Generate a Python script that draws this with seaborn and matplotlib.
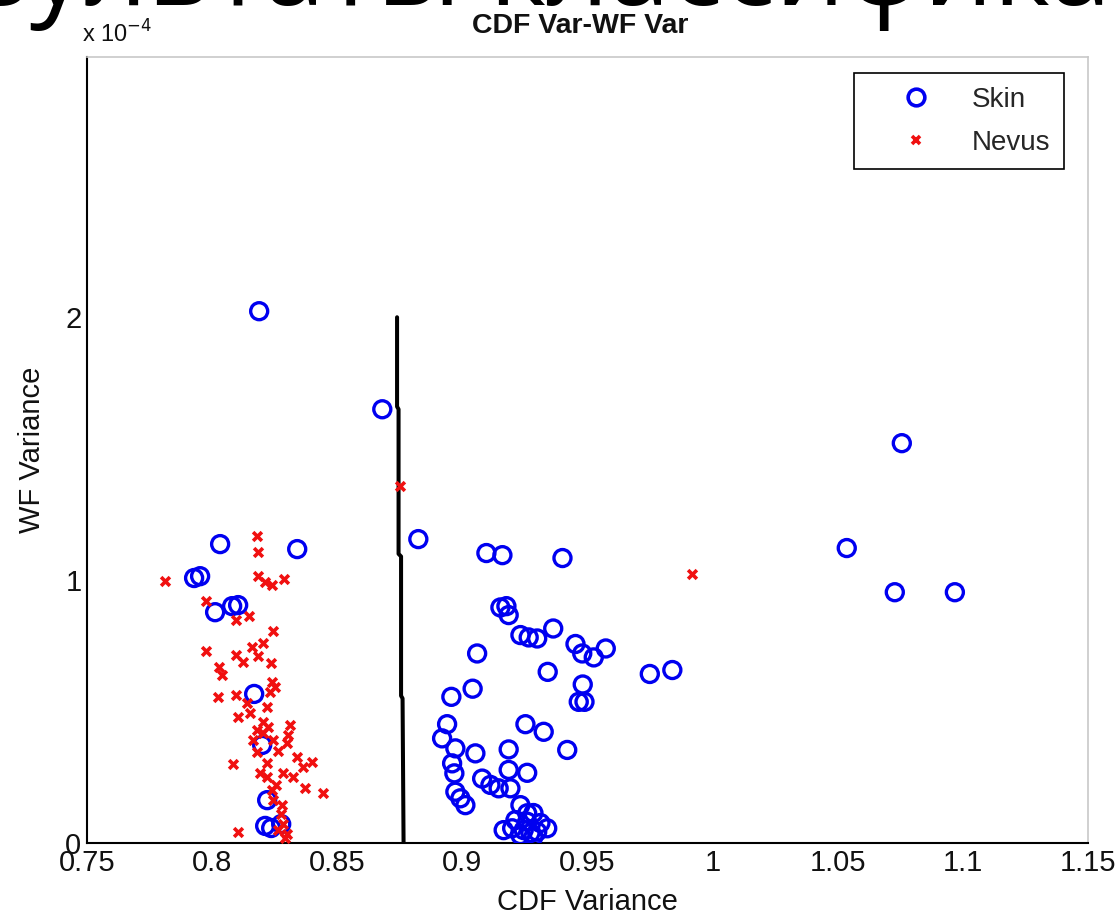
import matplotlib
matplotlib.use("Agg")
import matplotlib.pyplot as plt
import seaborn as sns
import numpy as np
from matplotlib.lines import Line2D

# ---------------- data ----------------
skin_cdf_var = [0.8188, 0.868, 1.0756, 0.8824, 1.0536, 0.9096, 0.916, 0.940, 0.834, 0.8032,
                0.7928, 0.7952, 1.0728, 1.0968, 0.8012, 0.808, 0.8104, 0.8168,
                0.820, 0.822, 0.8212, 0.8236, 0.8276,
                0.9152, 0.9176, 0.9185, 0.9232, 0.9265, 0.9299, 0.9363, 0.9452, 0.9479, 0.9525,
                0.9573, 0.9059, 0.9341, 0.9749, 0.9839, 0.9481, 0.9465, 0.9488, 0.9041, 0.8956,
                0.8939, 0.8919, 0.8972, 0.8959, 0.8968, 0.9052, 0.9252, 0.9325, 0.9419, 0.9185,
                0.9185, 0.9259, 0.9079, 0.9112, 0.9145, 0.9192, 0.8972, 0.8992, 0.9012,
                0.9232, 0.9259, 0.9284, 0.9212, 0.9165, 0.9339, 0.9245, 0.9272, 0.9299, 0.9312,
                0.9199, 0.9259, 0.9232, 0.9284]
skin_wf_var_e4 = [2.023, 1.650, 1.521, 1.156, 1.122, 1.103, 1.095, 1.084, 1.118, 1.137,
                  1.008, 1.015, 0.954, 0.954, 0.878, 0.901, 0.905, 0.567,
                  0.373, 0.163, 0.065, 0.057, 0.072,
                  0.896, 0.901, 0.867, 0.791, 0.782, 0.778, 0.816, 0.757, 0.721, 0.706,
                  0.740, 0.721, 0.651, 0.643, 0.658, 0.603, 0.537, 0.537, 0.587, 0.556,
                  0.452, 0.398, 0.360, 0.303, 0.265, 0.341, 0.452, 0.423, 0.354, 0.356,
                  0.278, 0.267, 0.245, 0.221, 0.208, 0.208, 0.195, 0.170, 0.144,
                  0.144, 0.113, 0.114, 0.087, 0.049, 0.056, 0.049, 0.038, 0.043, 0.076,
                  0.056, 0.081, 0.030, 0.024]

nevus_cdf_var = [0.8752, 0.9917, 0.7812, 0.8179, 0.8185, 0.8185, 0.8212, 0.8239, 0.8288, 0.7976,
                 0.8096, 0.8149, 0.8243, 0.8203, 0.8159, 0.7976, 0.8096, 0.8125, 0.8185, 0.8235,
                 0.8029, 0.8039, 0.8239, 0.8252, 0.8232, 0.8025, 0.8096, 0.8139, 0.8152, 0.8105,
                 0.8219, 0.8179, 0.8205, 0.8245, 0.8165, 0.8312, 0.8305, 0.8299, 0.8179, 0.8219,
                 0.8192, 0.8339, 0.8399, 0.8365, 0.8085, 0.8285, 0.8325, 0.8372, 0.8443, 0.8219,
                 0.8239, 0.8245, 0.8279, 0.8285, 0.8299, 0.8265, 0.8292, 0.8103,
                 0.8205, 0.8225, 0.8265, 0.8255, 0.8275]
nevus_wf_var_e4 = [1.357, 1.023, 0.997, 1.167, 1.108, 1.015, 0.994, 0.981, 1.006, 0.921,
                   0.848, 0.863, 0.806, 0.762, 0.746, 0.730, 0.715, 0.689, 0.711, 0.683,
                   0.670, 0.639, 0.613, 0.594, 0.575, 0.556, 0.563, 0.531, 0.493, 0.480,
                   0.518, 0.430, 0.418, 0.392, 0.392, 0.449, 0.411, 0.379, 0.347, 0.303,
                   0.265, 0.328, 0.309, 0.290, 0.300, 0.265, 0.252, 0.208, 0.191, 0.252,
                   0.202, 0.163, 0.144, 0.074, 0.036, 0.049, 0.019, 0.043,
                   0.46, 0.44, 0.35, 0.22, 0.11]

boundary_cdf_var = [0.8739, 0.8739, 0.8745, 0.8745, 0.8755, 0.8755, 0.8761, 0.8765]
boundary_wf_var_e4 = [2.0, 1.66, 1.65, 1.10, 1.09, 0.56, 0.55, 0.0]

x_ticks = [0.75, 0.8, 0.85, 0.9, 0.95, 1.0, 1.05, 1.1, 1.15]
x_tick_labels = ["0.75", "0.8", "0.85", "0.9", "0.95", "1", "1.05", "1.1", "1.15"]
y_ticks = [0, 1, 2]
y_tick_labels = ["0", "1", "2"]

# ---------------- figure ----------------
sns.set_style("white")
plt.rcParams["font.family"] = ["Liberation Sans", "DejaVu Sans"]

W, H = 1117, 917
fig = plt.figure(figsize=(W / 100, H / 100), dpi=100)
ax = fig.add_axes([87 / W, 1 - 843 / H, (1088 - 87) / W, (843 - 57) / H])

sns.lineplot(x=boundary_cdf_var, y=boundary_wf_var_e4, sort=False, estimator=None,
             color="black", linewidth=2.9, ax=ax)

sns.scatterplot(x=skin_cdf_var, y=skin_wf_var_e4, marker="o", s=150,
                facecolors="none", edgecolor="#0000f0", linewidth=2.4, ax=ax, zorder=3)
sns.scatterplot(x=nevus_cdf_var, y=nevus_wf_var_e4, marker="x", s=40,
                color="#f01010", linewidth=2.6, ax=ax, zorder=4)

ax.set_xlim(0.75, 1.15)
ax.set_ylim(0, 2.99)
ax.set_xticks(x_ticks)
ax.set_xticklabels(x_tick_labels)
ax.set_yticks(y_ticks)
ax.set_yticklabels(y_tick_labels)
ax.tick_params(direction="in", length=8, width=1.2, color="black", labelsize=21,
               labelcolor="#111111", pad=4)
for side in ["left", "bottom"]:
    ax.spines[side].set_color("black")
    ax.spines[side].set_linewidth(1.5)
for side in ["top", "right"]:
    ax.spines[side].set_color("#c8c8c8")
    ax.spines[side].set_linewidth(1.2)

ax.set_xlabel("CDF Variance", fontsize=21, color="#111111", labelpad=8)
ax.set_ylabel("WF Variance", fontsize=21, color="#111111", labelpad=14)
ax.set_title("CDF Var-WF Var", fontsize=20.5, fontweight="bold", color="#111111", pad=17,
             x=(580 - 87) / (1088 - 87))
fig.text(82 / W, 1 - 43 / H, r"x 10$^{-4}$", fontsize=17, color="#111111",
         ha="left", va="baseline")

handles = [Line2D([], [], marker="o", linestyle="none", markersize=12, markerfacecolor="none",
                  markeredgecolor="#0000f0", markeredgewidth=2.6),
           Line2D([], [], marker="x", linestyle="none", markersize=6, color="#f01010",
                  markeredgewidth=2.6)]
leg = ax.legend(handles, ["Skin", "Nevus"], loc="upper right", fontsize=20,
                frameon=True, fancybox=False, framealpha=1, edgecolor="black",
                borderpad=0.5, handlelength=3.5, handletextpad=0.25, labelspacing=0.6,
                borderaxespad=0.0, bbox_to_anchor=(1 - 24 / (1088 - 87), 1 - 16 / (843 - 57)))
leg.get_frame().set_linewidth(1.2)

# big slide title partially cut off at the top
title_txt = "Результаты классификации"
fs = 79
fam = ["Open Sans", "DejaVu Sans"]
renderer = fig.canvas.get_renderer()
probe = fig.text(0, 0, "Рез", fontsize=fs, family=fam)
pw = probe.get_window_extent(renderer).width
probe.remove()
fig.text((30 - pw) / W, 1 - 5 / H, title_txt, fontsize=fs, family=fam,
         color="black", ha="left", va="baseline")

fig.savefig("out.png", dpi=100)
